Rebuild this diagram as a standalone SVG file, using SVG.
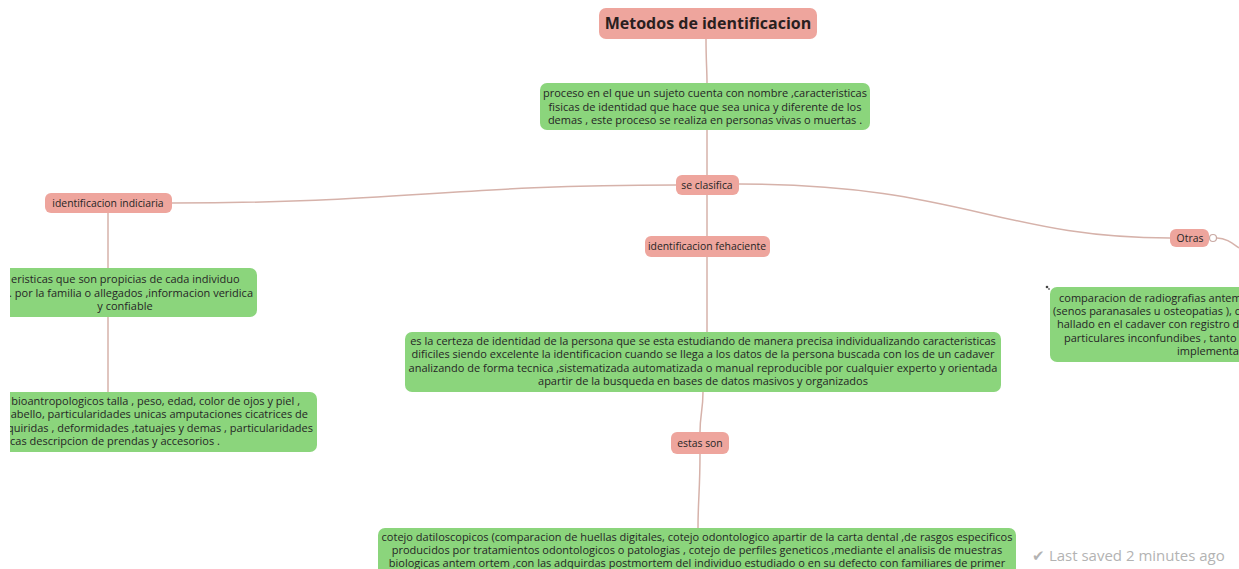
<svg xmlns="http://www.w3.org/2000/svg" width="1239" height="569" viewBox="0 0 1239 569">
<style>
.pink{fill:#eea59d;}
.green{fill:#8bd57c;}
.t{font-family:"Open Sans","Noto Sans","Liberation Sans",sans-serif;font-size:11px;fill:#262626;}
.pl{font-size:10.4px;}
.tm{text-anchor:middle;}
.te{text-anchor:end;}
.title{font-family:"Open Sans","Noto Sans","Liberation Sans",sans-serif;font-size:16px;font-weight:bold;fill:#2a1f1f;text-anchor:middle;}
.c{fill:none;stroke:#d6b2aa;stroke-width:1.5;}
.saved{font-family:"Open Sans","Noto Sans","Liberation Sans",sans-serif;font-size:15px;fill:#b3b3b3;}
</style>
<rect width="1239" height="569" fill="#ffffff"/>
<g id="connectors">
<path class="c" d="M706,39 C706,60 707,70 707,83"/>
<path class="c" d="M707,130 L707,175"/>
<path class="c" d="M676,185 C450,185 400,203 172,203"/>
<path class="c" d="M739,184 C960,184 1000,238 1170,238"/>
<path class="c" d="M1217,238 C1226,238 1232,243 1239,248"/>
<path class="c" d="M707,195 L707,236"/>
<path class="c" d="M707,257 L707,332"/>
<path class="c" d="M703,392 C703,410 700,415 700,432"/>
<path class="c" d="M700,454 C700,490 698,500 698,528"/>
<path class="c" d="M108,213 L108,268"/>
<path class="c" d="M108,317 L108,392"/>
</g>
<g id="n-title">
<rect class="pink" x="599" y="8" width="218" height="31" rx="7"/>
<text class="title" x="708" y="29">Metodos de identificacion</text>
</g>
<g id="n-proceso">
<rect class="green" x="540" y="83" width="330" height="47" rx="7"/>
<text class="t tm" x="705" y="97">proceso en el que un sujeto cuenta con nombre ,caracteristicas</text>
<text class="t tm" x="705" y="111">fisicas de identidad que hace que sea unica y diferente de los</text>
<text class="t tm" x="705" y="124">demas , este proceso se realiza en personas vivas o muertas .</text>
</g>
<g id="n-seclasifica">
<rect class="pink" x="676" y="175" width="63" height="20" rx="6"/>
<text class="t pl tm" x="707" y="189">se clasifica</text>
</g>
<g id="n-indiciaria">
<rect class="pink" x="45" y="193" width="127" height="20" rx="6"/>
<text class="t pl tm" x="108" y="207">identificacion indiciaria</text>
</g>
<g id="n-indiciaria-desc">
<rect class="green" x="-60" y="268" width="317" height="49" rx="7"/>
<text class="t" x="11" y="283">eristicas que son propicias de cada individuo</text>
<text class="t te" x="253" y="297">. por la familia o allegados ,informacion veridica</text>
<text class="t tm" x="125" y="310">y confiable</text>
</g>
<g id="n-indiciaria-datos">
<rect class="green" x="-60" y="392" width="377" height="60" rx="7"/>
<text class="t te" x="300" y="405">bioantropologicos talla , peso, edad, color de ojos y piel ,</text>
<text class="t te" x="308" y="418">abello, particularidades unicas amputaciones cicatrices de</text>
<text class="t te" x="313" y="432">quiridas , deformidades ,tatuajes y demas , particularidades</text>
<text class="t" x="10" y="445">cas descripcion de prendas y accesorios .</text>
</g>
<g id="n-fehaciente">
<rect class="pink" x="645" y="236" width="125" height="21" rx="6"/>
<text class="t pl tm" x="707" y="250">identificacion fehaciente</text>
</g>
<g id="n-fehaciente-desc">
<rect class="green" x="405" y="332" width="596" height="60" rx="7"/>
<text class="t tm" x="703" y="345">es la certeza de identidad de la persona que se esta estudiando de manera precisa individualizando caracteristicas</text>
<text class="t tm" x="703" y="358">dificiles siendo excelente la identificacion cuando se llega a los datos de la persona buscada con los de un cadaver</text>
<text class="t tm" x="703" y="372">analizando de forma tecnica ,sistematizada automatizada o manual reproducible por cualquier experto y orientada</text>
<text class="t tm" x="703" y="385">apartir de la busqueda en bases de datos masivos y organizados</text>
</g>
<g id="n-estasson">
<rect class="pink" x="671" y="432" width="58" height="22" rx="6"/>
<text class="t pl tm" x="700" y="447">estas son</text>
</g>
<g id="n-cotejos">
<rect class="green" x="378" y="528" width="638" height="60" rx="7"/>
<text class="t tm" x="697" y="541">cotejo datiloscopicos (comparacion de huellas digitales, cotejo odontologico apartir de la carta dental ,de rasgos especificos</text>
<text class="t tm" x="697" y="554">producidos por tratamientos odontologicos o patologias , cotejo de perfiles geneticos ,mediante el analisis de muestras</text>
<text class="t tm" x="697" y="567">biologicas antem ortem ,con las adquirdas postmortem del individuo estudiado o en su defecto con familiares de primer</text>
</g>
<g id="n-otras">
<rect class="pink" x="1170" y="229" width="39" height="18" rx="6"/>
<text class="t pl tm" x="1190" y="242">Otras</text>
<circle cx="1213" cy="238" r="3.5" fill="#ffffff" stroke="#c9a9a3" stroke-width="1.2"/>
</g>
<g id="n-otras-desc">
<rect class="green" x="1050" y="287" width="260" height="75" rx="7"/>
<text class="t" x="1059" y="302">comparacion de radiografias antem</text>
<text class="t" x="1053" y="315">(senos paranasales u osteopatias ), c</text>
<text class="t" x="1057" y="328">hallado en el cadaver con registro d</text>
<text class="t" x="1064" y="342">particulares inconfundibes , tanto l</text>
<text class="t" x="1177" y="355">implementa</text>
<circle cx="1047" cy="287" r="1.3" fill="#444"/>
<circle cx="1049" cy="289" r="0.9" fill="#666"/>
</g>
<rect x="0" y="260" width="10" height="200" fill="#ffffff"/>
<text class="saved" x="1032" y="561">✔ Last saved 2 minutes ago</text>
</svg>
